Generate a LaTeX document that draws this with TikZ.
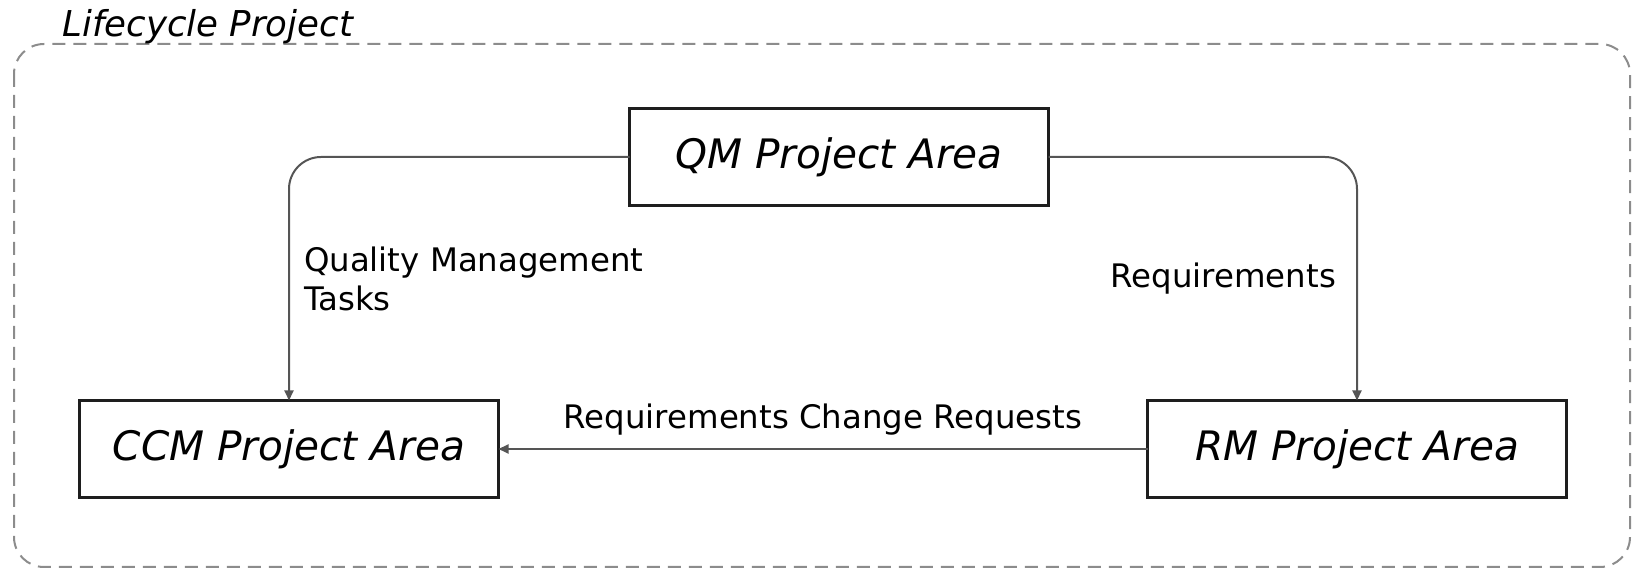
\documentclass[tikz,border=0pt]{standalone}
\usepackage{fontspec}
\setmainfont{DejaVu Sans}
\usepackage{tikz}
\usetikzlibrary{arrows.meta}

\definecolor{framegray}{RGB}{140,140,140}
\definecolor{linkgray}{RGB}{85,85,85}
\definecolor{boxblack}{RGB}{30,30,30}

\begin{document}
\begin{tikzpicture}[x=0.5pt,y=-0.5pt]
  \tikzset{AreaStyle/.style = {
    shape         = rectangle,
    draw          = boxblack,
    fill          = white,
    line width    = 1.5pt,
    text          = black,
    font          = \fontsize{20.3}{24}\selectfont\itshape,
    inner sep     = 0pt,
    outer sep     = 0pt,
    minimum width = 209.5pt,
    minimum height= 48.5pt
    }
  }
  \tikzset{LinkStyle/.style = {
    draw            = linkgray,
    line width      = 1pt,
    rounded corners = 16pt,
    -{Triangle[length=5pt,width=4.5pt]}
    }
  }
  \tikzset{LinkLabelStyle/.style = {
    text          = black,
    font          = \fontsize{16.2}{19.5}\selectfont,
    inner sep     = 0pt,
    align         = left
    }
  }
  \tikzset{FrameStyle/.style = {
    draw            = framegray,
    line width      = 1pt,
    dash pattern    = on 6.5pt off 4pt,
    rounded corners = 15pt
    }
  }

  \useasboundingbox (0,0) rectangle (1634,571);

  % lifecycle project frame
  \draw[FrameStyle] (14,44) rectangle (1630,567);
  \node[anchor=base west, inner sep=0pt, font=\fontsize{17.8}{21}\selectfont\itshape]
    (title) at (62,37) {Lifecycle Project};

  \node[AreaStyle](qm)  at (839,157) {QM Project Area};
  \node[AreaStyle](ccm) at (289,449) {CCM Project Area};
  \node[AreaStyle](rm)  at (1357,449) {RM Project Area};

  \draw[LinkStyle](qm.west) -| node[LinkLabelStyle, pos=0.75, anchor=west, xshift=7pt]
    {Quality Management\\Tasks} (ccm.north);
  \draw[LinkStyle](qm.east) -| node[LinkLabelStyle, pos=0.75, anchor=east, xshift=-10pt]
    {Requirements} (rm.north);
  \draw[LinkStyle](rm.west) -- node[LinkLabelStyle, anchor=base, yshift=10pt]
    {Requirements Change Requests} (ccm.east);

\end{tikzpicture}
\end{document}
